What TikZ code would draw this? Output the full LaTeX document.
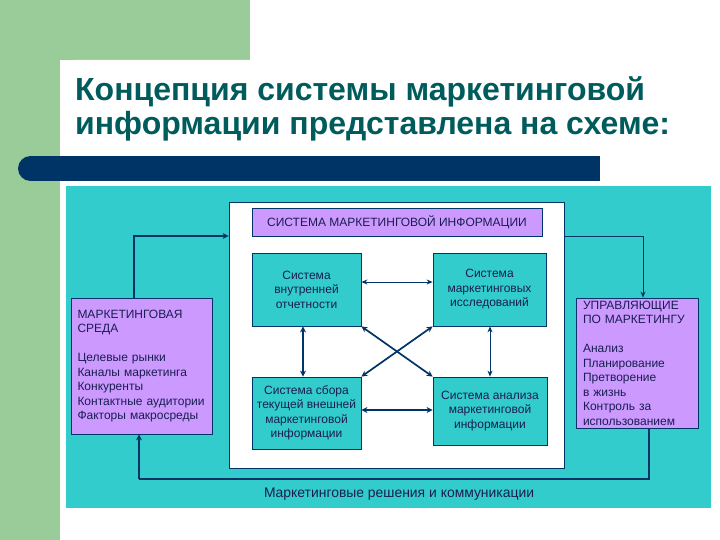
\documentclass[tikz,border=0pt]{standalone}
\usepackage{fontspec}
\setmainfont{Liberation Sans}
\usetikzlibrary{arrows.meta}
\definecolor{grn}{RGB}{153,204,153}
\definecolor{navy}{RGB}{0,51,102}
\definecolor{tealbg}{RGB}{51,204,204}
\definecolor{lav}{RGB}{204,153,255}
\definecolor{ttl}{RGB}{0,92,92}
\definecolor{txt}{RGB}{25,30,80}
\begin{document}
\begin{tikzpicture}[x=1pt,y=-1pt,
  box/.style={draw=navy, line width=0.8pt, inner sep=0pt, text=txt, font=\fontsize{12}{14.5}\selectfont},
  tealbox/.style={box, fill=tealbg, align=center},
  lavbox/.style={box, fill=lav, align=left},
  conn/.style={draw=navy, line width=1.7pt, {Stealth[length=6pt,width=6pt]}-{Stealth[length=6pt,width=6pt]}},
  connthin/.style={draw=navy, line width=1pt, {Stealth[length=6pt,width=5pt]}-{Stealth[length=6pt,width=5pt]}},
  flow/.style={draw=navy, line width=1pt, -{Stealth[length=6pt,width=5pt]}},
  flowthick/.style={draw=navy, line width=1.6pt, -{Stealth[length=6pt,width=6pt]}},
  ttlfont/.style={font=\fontsize{32}{36}\selectfont\bfseries, text=ttl, inner sep=0pt, anchor=base west}
]
\useasboundingbox (0,0) rectangle (720,540);
% background
\fill[white] (0,0) rectangle (720,540);
\fill[grn] (0,0) rectangle (250,60);
\fill[grn] (0,0) rectangle (60,540);
\fill[white, rounded corners=16pt] (60,540) -- (60,60) -- (760,60) -- (760,580) -- (60,580) -- cycle;
\fill[white] (60,520) rectangle (720,540);
% navy bar
\fill[navy] (30.5,156) rectangle (600,181);
\fill[navy] (30.5,168.5) circle (12.5);
% title
\node[ttlfont] (t1) at (75,101) {Концепция системы маркетинговой};
\node[ttlfont] (t2) at (75,135) {информации представлена на схеме:};
% teal area
\fill[tealbg] (66,186) rectangle (711,508);
% white inner box
\node[draw=navy, line width=0.8pt, fill=white, minimum width=335pt, minimum height=266pt, inner sep=0pt] (W) at (396.5,335) {};
% boxes
\node[box, fill=lav, minimum width=290pt, minimum height=28pt] (T) at (397,222) {СИСТЕМА МАРКЕТИНГОВОЙ ИНФОРМАЦИИ};
\node[tealbox, minimum width=109pt, minimum height=73pt] (B1) at (306.5,289.5) {Система\\внутренней\\отчетности};
\node[tealbox, minimum width=113pt, minimum height=73pt] (B2) at (489.5,289.5) {Система\\маркетинговых\\исследований};
\node[tealbox, minimum width=109pt, minimum height=72pt] (B3) at (306.5,413) {Система сбора\\текущей внешней\\маркетинговой\\информации};
\node[tealbox, minimum width=114pt, minimum height=68pt] (B4) at (490,411) {Система анализа\\маркетинговой\\информации};
\node[lavbox, inner xsep=6.5pt, text width=128pt, minimum height=136pt] (L) at (141.5,366) {МАРКЕТИНГОВАЯ\\СРЕДА\\[14.5pt]Целевые рынки\\Каналы маркетинга\\Конкуренты\\Контактные аудитории\\Факторы макросреды};
\node[lavbox, inner xsep=7pt, text width=108pt, minimum height=130pt] (R) at (637,363) {УПРАВЛЯЮЩИЕ\\ПО МАРКЕТИНГУ\\[14.5pt]Анализ\\Планирование\\Претворение\\в жизнь\\Контроль за\\использованием};
\node[text=txt, font=\fontsize{13.9}{16}\selectfont, inner sep=0pt] (BT) at (399,494) {Маркетинговые решения и коммуникации};
% helper coordinates
\coordinate (a1) at (134,236);
\coordinate (a2) at (643,236);
\coordinate (a3) at (649,479);
\coordinate (a4) at (139,479);
\coordinate (h1) at (0,282);
\coordinate (h2) at (0,410);
\coordinate (v1) at (303,0);
\coordinate (v2) at (490,0);
% connectors
\draw[flowthick] (L.north -| a1) |- (W.west |- a1);
\draw[flow] (W.east |- a2) -| (R.north -| a2);
\draw[draw=navy, line width=1.2pt] (R.south -| a3) |- (a4);
\draw[flowthick] (a4) -- (L.south -| a4);
\draw[connthin] (B1.east |- h1) -- (B2.west |- h1);
\draw[conn] (B3.east |- h2) -- (B4.west |- h2);
\draw[conn] (B1.south -| v1) -- (B3.north -| v1);
\draw[connthin] (B2.south -| v2) -- (B4.north -| v2);
\draw[conn] (B1.south east) -- (B4.north west);
\draw[conn] (B3.north east) -- (B2.south west);
\end{tikzpicture}
\end{document}
